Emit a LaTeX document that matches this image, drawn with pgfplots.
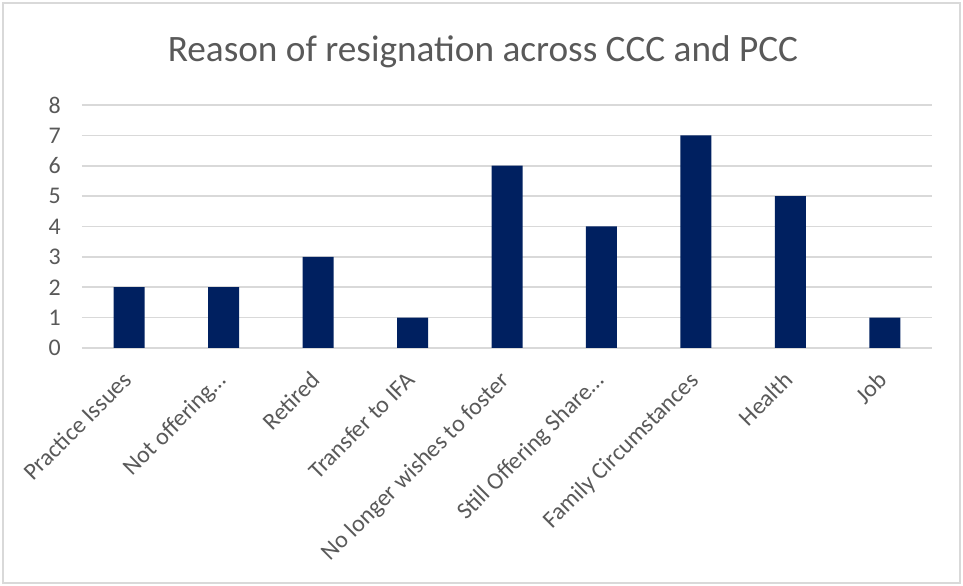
\documentclass[border=0pt]{standalone}
\usepackage{pgfplots}
\pgfplotsset{compat=1.18}
\usepackage{fontspec}
\setmainfont{Carlito}
\definecolor{barblue}{HTML}{002060}
\definecolor{txtgray}{HTML}{595959}
\definecolor{gridgray}{HTML}{D9D9D9}
\begin{document}
\begin{tikzpicture}[x=1bp,y=1bp]
\path[use as bounding box] (-82,-238) rectangle (881,348);
\draw[gridgray, line width=2bp] (-79,-235) rectangle (878,345);
\begin{axis}[
  at={(0,0)}, anchor=south west,
  scale only axis, width=850bp, height=243bp,
  xmin=-0.5, xmax=8.5, ymin=0, ymax=8,
  ytick={0,1,2,3,4,5,6,7,8},
  xtick={0,1,2,3,4,5,6,7,8},
  xticklabels={{Practice Issues},{Not offering…},{Retired},{Transfer to IFA},{No longer wishes to foster},{Still Offering Share…},{Family Circumstances},{Health},{Job}},
  axis line style={draw=none},
  major tick length=0pt,
  ymajorgrids,
  grid style={color=gridgray, line width=1.6bp},
  /pgf/number format/assume math mode=true,
  ticklabel style={font=\fontsize{24}{28}\selectfont, text=txtgray, inner sep=0pt},
  yticklabel style={anchor=east, xshift=-21bp},
  xticklabel style={xshift=-8bp, yshift=-22bp, rotate=45, anchor=north east},
  clip=false,
]
\addplot[ybar, bar width=31bp, fill=barblue, draw=none] coordinates {
(0,2) (1,2) (2,3) (3,1) (4,6) (5,4) (6,7) (7,5) (8,1)
};
\end{axis}
\node[text=txtgray, font=\fontsize{37.4}{44}\selectfont] at (401,296) {Reason of resignation across CCC and PCC};
\end{tikzpicture}
\end{document}
